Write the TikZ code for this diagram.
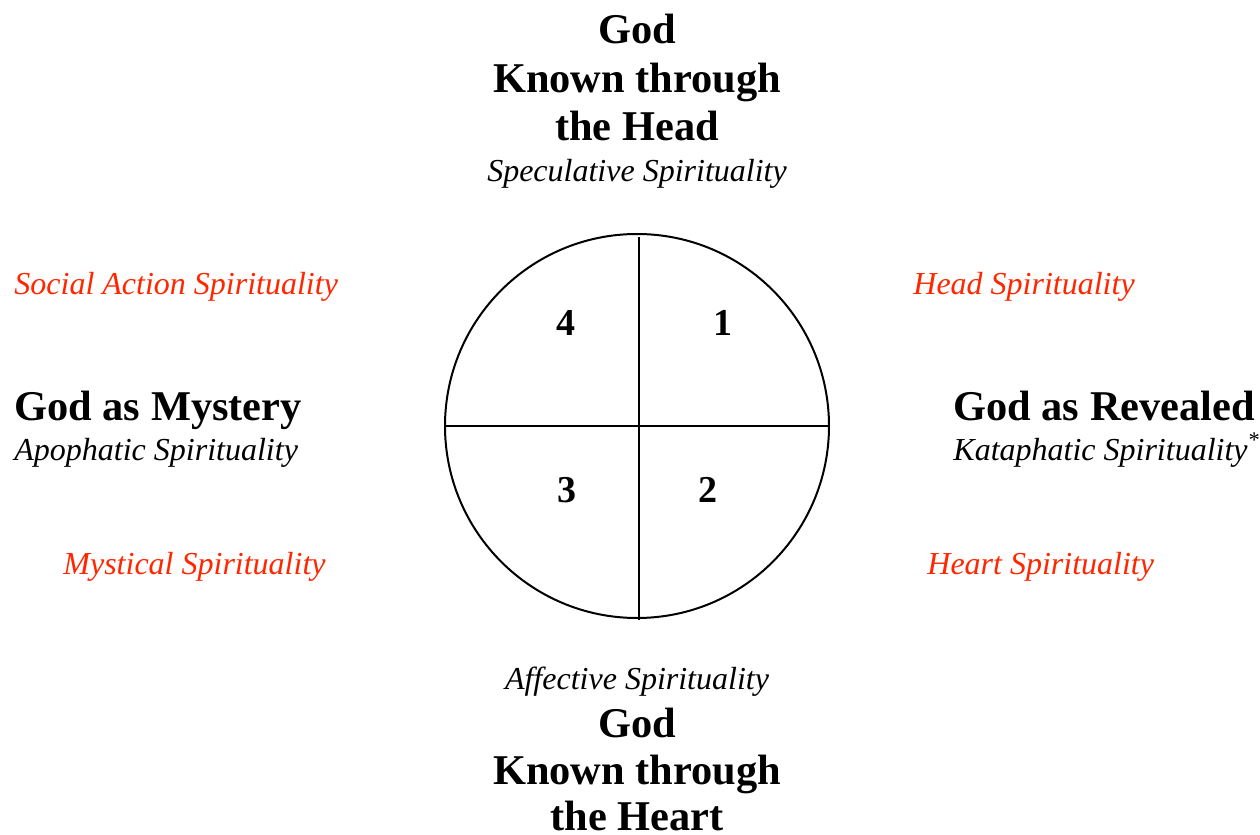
\documentclass[tikz,border=0pt]{standalone}
\usepackage{fontspec}
\setmainfont{Liberation Serif}
\definecolor{redtxt}{RGB}{255,38,0}
\tikzset{
  big/.style={font=\fontsize{21.2}{24}\selectfont\bfseries, inner sep=0pt, anchor=base},
  sub/.style={font=\fontsize{16}{19}\selectfont\itshape, inner sep=0pt, anchor=base},
  redlbl/.style={font=\fontsize{16}{19}\selectfont\itshape, text=redtxt, inner sep=0pt, anchor=base west},
  num/.style={font=\fontsize{19}{22}\selectfont\bfseries, inner sep=0pt},
  ring/.style={circle, draw, line width=1pt, minimum size=192pt, inner sep=0pt},
}
\begin{document}
\begin{tikzpicture}[x=0.5pt,y=0.5pt]
\useasboundingbox (0,0) rectangle (1260,-835);
% circle
\node[ring] (c) at (637,-426) {};
\coordinate (vt) at (639,-237);
\coordinate (vb) at (639,-620);
\draw[line width=1pt] (vt) -- (vb);
\draw[line width=1pt] (c.west) -- (c.east);
% numbers
\node[num] (n4) at (566,-323) {4};
\node[num] (n1) at (723,-323) {1};
\node[num] (n3) at (567,-490) {3};
\node[num] (n2) at (708,-490) {2};
% top
\node[big] (t1) at (637,-43) {God};
\node[big] (t2) at (637,-92) {Known through};
\node[big] (t3) at (637,-140) {the Head};
\node[sub] (t4) at (637,-181) {Speculative Spirituality};
% bottom
\node[sub] (b0) at (637,-689) {Affective Spirituality};
\node[big] (b1) at (637,-737) {God};
\node[big] (b2) at (637,-784) {Known through};
\node[big] (b3) at (637,-830) {the Heart};
% left
\node[big, anchor=base west] (l1) at (14,-420) {God as Mystery};
\node[sub, anchor=base west] (l2) at (14,-460) {Apophatic Spirituality};
% right
\node[big, anchor=base west] (r1) at (953,-420) {God as Revealed};
\node[sub, anchor=base west] (r2) at (953,-460) {Kataphatic Spirituality\textsuperscript{*}};
% red labels
\node[redlbl] (s4) at (14,-294) {Social Action Spirituality};
\node[redlbl] (s1) at (913,-294) {Head Spirituality};
\node[redlbl] (s3) at (63,-574) {Mystical Spirituality};
\node[redlbl] (s2) at (927,-574) {Heart Spirituality};
\end{tikzpicture}
\end{document}
